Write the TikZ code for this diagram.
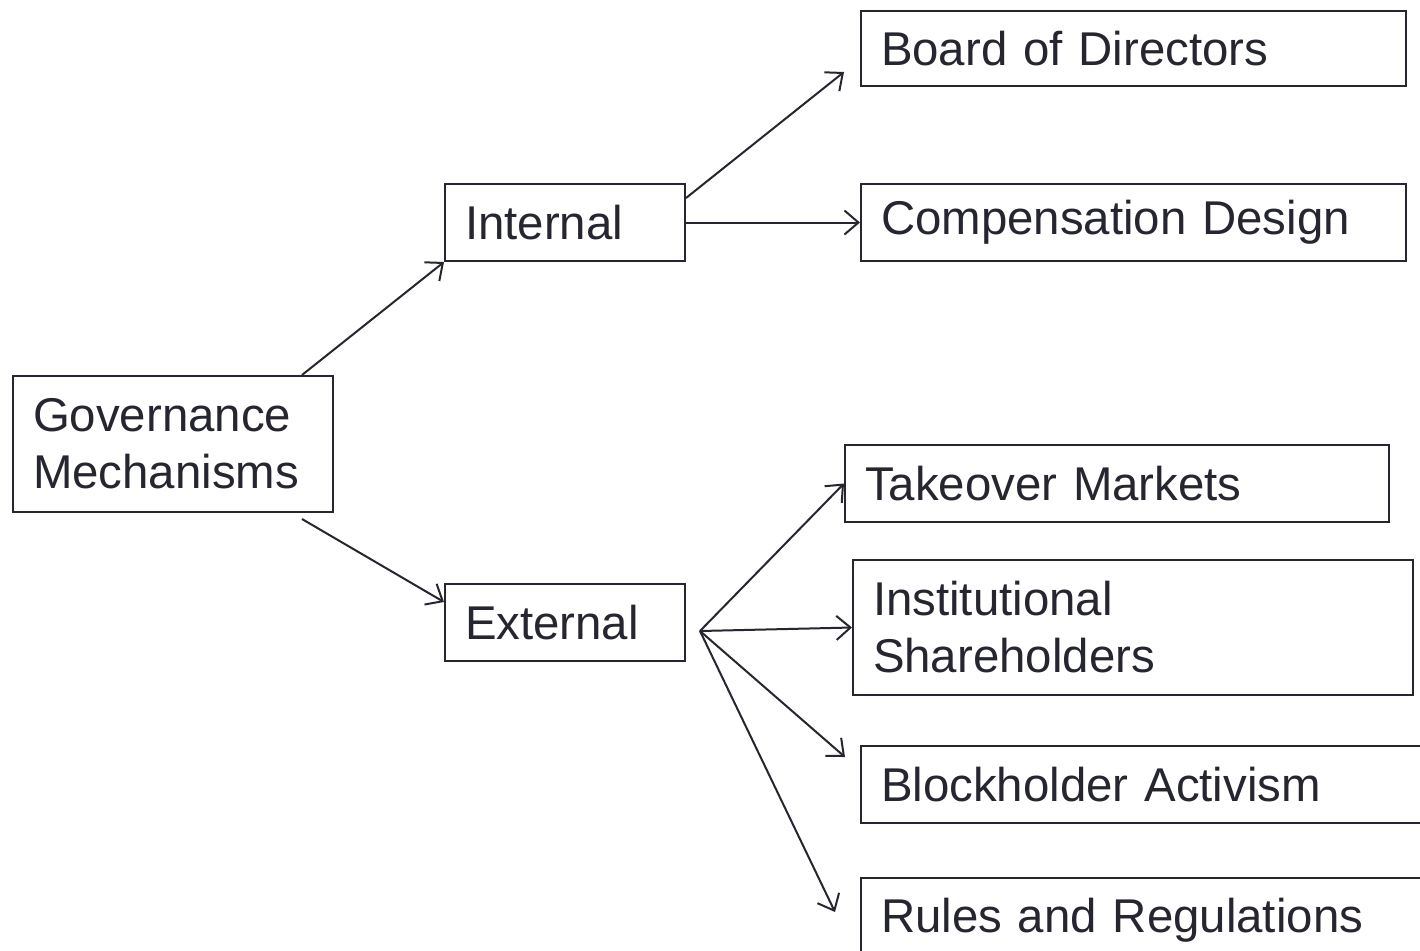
\documentclass[tikz,border=0pt]{standalone}
\usepackage{fontspec}
\setmainfont{Liberation Sans}
\usetikzlibrary{arrows.meta,calc}
\definecolor{ink}{RGB}{38,38,48}
\begin{document}
\begin{tikzpicture}[x=0.5pt,y=-0.5pt,
  box/.style={draw=ink,line width=1pt,text=ink,anchor=north west,
    inner xsep=10pt,inner ysep=0pt,align=left,
    font=\fontsize{23.7}{28.5}\selectfont},
  link/.style={draw=ink,line width=1pt,
    -{Straight Barb[length=7pt,width=12pt,line width=1pt]}}]
\useasboundingbox (0,0) rectangle (1420,950);
\clip (0,0) rectangle (1420,950);
\fill[white] (0,0) rectangle (1420,950);

% top-level and branch categories
\node[box,text width=140pt,minimum height=68pt] (gov) at (12,375) {Governance\\Mechanisms};
\node[box,text width=100pt,minimum height=38.5pt] (int) at (444,183) {Internal};
\node[box,text width=100pt,minimum height=38.5pt] (ext) at (444,583) {External};

% internal mechanisms
\node[box,text width=252.5pt,minimum height=37.5pt] (board) at (860,10) {Board of Directors};
\node[box,text width=252.5pt,minimum height=38.5pt] (comp) at (860,183) {Compensation Design};

% external mechanisms
\node[box,text width=252pt,minimum height=38.5pt] (take) at (844,444) {Takeover Markets};
\node[box,text width=260pt,minimum height=67.5pt] (inst) at (852,559) {Institutional\\Shareholders};
\node[box,text width=280pt,minimum height=38.5pt] (block) at (860,745) {Blockholder Activism};
\node[box,text width=280pt,minimum height=42pt] (rules) at (860,877) {Rules and Regulations};

% connectors
\draw[link] ($(gov.north east)+(-32,0)$) -- (int.south west);
\draw[link] ($(gov.south east)+(-32,6)$) -- ($(ext.north west)+(0,19)$);
\draw[link] ($(int.north east)+(0,15)$) -- ($(board.south west)+(-16,-15)$);
\draw[link] (int.east) -- (comp.west);
\coordinate (hub) at ($(ext.east)+(14,8.5)$);
\draw[link] (hub) -- (take.west);
\draw[link] (hub) -- (inst.west);
\draw[link] (hub) -- ($(block.north west)+(-15,12)$);
\draw[link] (hub) -- ($(rules.north west)+(-25,35)$);
\end{tikzpicture}
\end{document}
